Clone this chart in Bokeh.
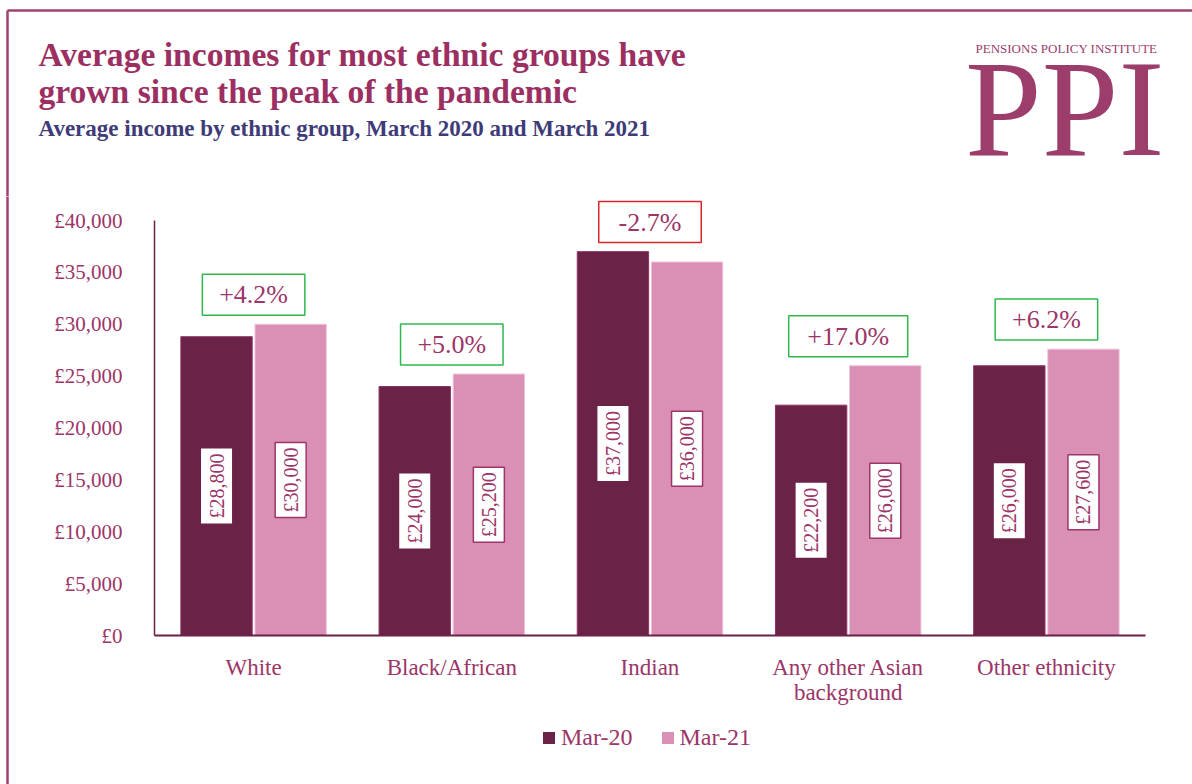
import math
from bokeh.plotting import figure
from bokeh.layouts import column, row
from bokeh.models import (ColumnDataSource, FactorRange, Range1d, Label, Legend, LegendItem,
                          FixedTicker, CustomJSTickFormatter)
from bokeh.transform import dodge
from bokeh.core.properties import value
from bokeh.embed import file_html
from bokeh.resources import INLINE

# ---------------- data ----------------
groups = ["White", "Black/African", "Indian", "Any other Asian\nbackground", "Other ethnicity"]
mar20 = [28800, 24000, 37000, 22200, 26000]
mar21 = [30000, 25200, 36000, 26000, 27600]
changes = ["+4.2%", "+5.0%", "-2.7%", "+17.0%", "+6.2%"]
series_names = ["Mar-20", "Mar-21"]
y_ticks = [0, 5000, 10000, 15000, 20000, 25000, 30000, 35000, 40000]

# ---------------- style ----------------
C20 = "#6a2347"
C21 = "#da8fb5"
MAG = "#9c3568"
TITLE_C = "#9c2f62"
SUB_C = "#3e3b78"
LOGO_C = "#9c3d6c"
BORDER_C = "#a33f71"
GREEN = "#2fb84f"
RED = "#d9262b"
SERIF = "Liberation Serif"

W, H = 1192, 784
HEAD_H = 196
STRIP_W = 9
MAIN_W = W - STRIP_W
FOOT_H = 69
MAIN_H = H - HEAD_H - FOOT_H
FRAME_L, FRAME_R, FRAME_B = 154, 1145, 635
AXIS_TOP = 220          # page y of the £40,000 tick
Y_MAX = y_ticks[-1]
Y_END = Y_MAX * (FRAME_B - HEAD_H) / (FRAME_B - AXIS_TOP)


def fmt(v):
    return "£{:,}".format(v)


def bare(fig):
    fig.outline_line_color = None
    fig.background_fill_color = "white"
    fig.border_fill_color = "white"
    fig.axis.visible = False
    fig.grid.visible = False
    return fig


def blank_fig(w, h, xr, yr):
    return bare(figure(width=w, height=h, x_range=xr, y_range=yr,
                       output_backend="svg", toolbar_location=None,
                       min_border=0, min_border_left=0, min_border_right=0,
                       min_border_top=0, min_border_bottom=0))


# ---------------- header ----------------
head = blank_fig(W, HEAD_H, Range1d(0, W), Range1d(0, HEAD_H))
head.segment(x0=[7, 7], y0=[HEAD_H - 10, HEAD_H - 10], x1=[W + 5, 7], y1=[HEAD_H - 10, -5],
             line_color=BORDER_C, line_width=2.5)


def lab(text, x, base, size, color, bold=False, align="left"):
    # base: wanted baseline in page pixels from the top
    y = base - 0.32 * size
    head.add_layout(Label(x=x, y=HEAD_H - y, text=text, text_font=SERIF,
                          text_font_size=f"{size}px", text_color=color,
                          text_font_style="bold" if bold else "normal",
                          text_align=align, text_baseline="alphabetic"))


lab("Average incomes for most ethnic groups have", 38, 65, 33.6, TITLE_C, True)
lab("grown since the peak of the pandemic", 38, 102, 33.6, TITLE_C, True)
lab("Average income by ethnic group, March 2020 and March 2021", 38, 135, 23, SUB_C, True)
lab("PENSIONS POLICY INSTITUTE", 1157, 52, 13, LOGO_C, False, "right")
lab("PPI", 1164, 152, 138, LOGO_C, False, "right")

# ---------------- left strip (page border) ----------------
strip = blank_fig(STRIP_W, H - HEAD_H, Range1d(0, STRIP_W), Range1d(0, 1))
strip.segment(x0=[7], y0=[-0.1], x1=[7], y1=[1.1], line_color=BORDER_C, line_width=2.5)

# ---------------- main chart ----------------
src = ColumnDataSource(dict(
    g=groups,
    v20=mar20,
    v21=mar21,
    h20=[v / 2 for v in mar20],
    h21=[v / 2 for v in mar21],
    t20=[fmt(v) for v in mar20],
    t21=[fmt(v) for v in mar21],
    ch=changes,
    chy=[max(a, b) + 2850 for a, b in zip(mar20, mar21)],
    chc=[RED if c.startswith("-") else GREEN for c in changes],
    chw=[20 + 16.5 * len(c) for c in changes],
))

p = figure(width=MAIN_W, height=MAIN_H, x_range=FactorRange(*groups, range_padding=0),
           y_range=Range1d(0, Y_END), output_backend="svg", toolbar_location=None,
           min_border_left=FRAME_L - STRIP_W, min_border_right=W - FRAME_R, min_border_top=0,
           min_border_bottom=H - FOOT_H - FRAME_B)
p.outline_line_color = None
p.background_fill_color = "white"
p.border_fill_color = "white"
p.xgrid.grid_line_color = None
p.ygrid.grid_line_color = None

bar20 = dict(fill_color=C20, line_color="#8e3163", line_width=1)
bar21 = dict(fill_color=C21, line_color="#efc3d8", line_width=1)
p.vbar(x=dodge("g", -0.187, range=p.x_range), top="v20", width=0.36, source=src, **bar20)
p.vbar(x=dodge("g", 0.187, range=p.x_range), top="v21", width=0.36, source=src, **bar21)

p.rect(x=dodge("g", -0.187, range=p.x_range), y="h20", width=31, height=75,
       width_units="screen", height_units="screen", source=src,
       fill_color="white", line_color=None)
p.rect(x=dodge("g", 0.187, range=p.x_range), y="h21", width=31, height=75,
       width_units="screen", height_units="screen", source=src,
       fill_color="white", line_color=MAG, line_width=1.5)
p.text(x=dodge("g", -0.187, range=p.x_range), y="h20", text="t20", source=src,
       angle=math.pi / 2, text_align="center", text_baseline="middle",
       text_font=value(SERIF), text_font_size="20px", text_color=MAG)
p.text(x=dodge("g", 0.187, range=p.x_range), y="h21", text="t21", source=src,
       angle=math.pi / 2, text_align="center", text_baseline="middle",
       text_font=value(SERIF), text_font_size="20px", text_color=MAG)

p.rect(x="g", y="chy", width="chw", height=41, width_units="screen", height_units="screen",
       source=src, fill_color="white", line_color="chc", line_width=1.5)
p.text(x="g", y="chy", text="ch", source=src, text_align="center", text_baseline="middle",
       text_font=value(SERIF), text_font_size="26px", text_color=MAG)

yax = p.yaxis[0]
yax.bounds = (0, Y_MAX)
yax.ticker = FixedTicker(ticks=y_ticks)
yax.formatter = CustomJSTickFormatter(
    code="return '£' + tick.toString().replace(/\\B(?=(\\d{3})+(?!\\d))/g, ',');")
yax.major_tick_line_color = None
yax.minor_tick_line_color = None
yax.axis_line_color = "#6b2148"
yax.axis_line_width = 1.5
yax.major_label_text_font = SERIF
yax.major_label_text_font_size = "21px"
yax.major_label_text_color = MAG
yax.major_label_standoff = 26

xax = p.xaxis[0]
xax.major_tick_line_color = None
xax.minor_tick_line_color = None
xax.axis_line_color = "#6b2148"
xax.axis_line_width = 2
xax.major_label_text_font = SERIF
xax.major_label_text_font_size = "23px"
xax.major_label_text_line_height = 1.0
xax.major_label_text_color = MAG
xax.major_label_standoff = 13

# ---------------- footer with legend ----------------
# footer frame is aligned with the chart frame by the column layout; its bars are
# hidden, so only their legend swatches show
foot = blank_fig(MAIN_W, FOOT_H, FactorRange(*groups, range_padding=0), Range1d(0, 1))
f20 = foot.vbar(x="g", top="v20", width=0.36, source=src, fill_color=C20, line_color=None)
f21 = foot.vbar(x="g", top="v21", width=0.36, source=src, fill_color=C21, line_color=None)
f20.visible = False
f21.visible = False
leg = Legend(items=[LegendItem(label=series_names[0], renderers=[f20]),
                    LegendItem(label=series_names[1], renderers=[f21])],
             orientation="horizontal", location=(541 - FRAME_L, FOOT_H - 36),
             glyph_width=15, glyph_height=15, label_standoff=5, spacing=27,
             padding=0, margin=0, border_line_color=None, background_fill_alpha=0,
             click_policy="none",
             label_text_font=SERIF, label_text_font_size="24px", label_text_color=MAG)
foot.add_layout(leg, "center")

layout = column(head, row(strip, column(p, foot, spacing=0), spacing=0), spacing=0)
open("out.html", "w").write(file_html(layout, INLINE))
